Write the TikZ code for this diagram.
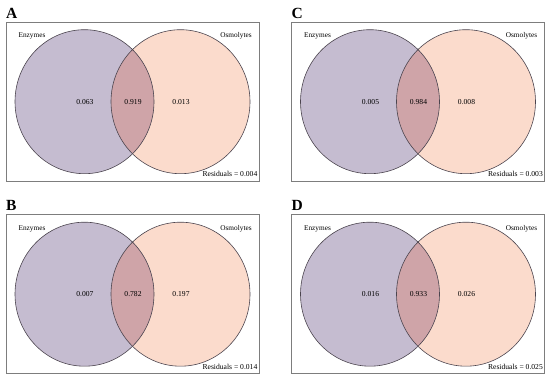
\documentclass[tikz,border=0pt]{standalone}
\usepackage{fontspec}
\setmainfont{Liberation Serif}
\definecolor{encol}{RGB}{197,188,208}
\definecolor{oscol}{RGB}{251,219,204}
\definecolor{incol}{RGB}{207,164,168}
\definecolor{edgecol}{RGB}{75,68,78}
\definecolor{boxcol}{RGB}{125,125,125}
\tikzset{
  panelbox/.style={draw=boxcol, line width=0.7pt},
  setedge/.style={draw=edgecol, line width=0.6pt},
  panellabel/.style={font=\fontsize{15.5}{16}\selectfont\bfseries, inner sep=0pt, anchor=base west},
  setlabel/.style={font=\fontsize{7.3}{8}\selectfont, inner sep=0pt},
  numlabel/.style={font=\fontsize{7.6}{8}\selectfont, inner sep=0pt},
}
\newcommand\VennPanel[7]{%
  \begin{scope}[shift={(#2,#3)}]
    \draw[panelbox] (6,22) rectangle (259,181);
    \node[panellabel] (#1-lab) at (6,18.5) {#1};
    \fill[oscol] (180.5,101.7) ellipse [x radius=69.5, y radius=72];
    \fill[encol] (84.5,101.7) ellipse [x radius=69.5, y radius=72];
    \begin{scope}
      \clip (84.5,101.7) ellipse [x radius=69.5, y radius=72];
      \fill[incol] (180.5,101.7) ellipse [x radius=69.5, y radius=72];
    \end{scope}
    \draw[setedge] (84.5,101.7) ellipse [x radius=69.5, y radius=72];
    \draw[setedge] (180.5,101.7) ellipse [x radius=69.5, y radius=72];
    \node[setlabel] (#1-enz) at (32,36) {Enzymes};
    \node[setlabel] (#1-osm) at (236,36) {Osmolytes};
    \node[numlabel] (#1-n1) at (85,101.7) {#4};
    \node[numlabel] (#1-n2) at (133,101.7) {#5};
    \node[numlabel] (#1-n3) at (181,101.7) {#6};
    \node[numlabel, anchor=east] (#1-res) at (257.5,174) {Residuals = #7};
  \end{scope}}
\begin{document}
\begin{tikzpicture}[x=1pt,y=-1pt]
  \useasboundingbox (0,0) rectangle (550,379);
  \VennPanel{A}{0}{0}{0.063}{0.919}{0.013}{0.004}
  \VennPanel{C}{285.5}{0}{0.005}{0.984}{0.008}{0.003}
  \VennPanel{B}{0}{192.5}{0.007}{0.782}{0.197}{0.014}
  \VennPanel{D}{285.5}{192.5}{0.016}{0.933}{0.026}{0.025}
\end{tikzpicture}
\end{document}
